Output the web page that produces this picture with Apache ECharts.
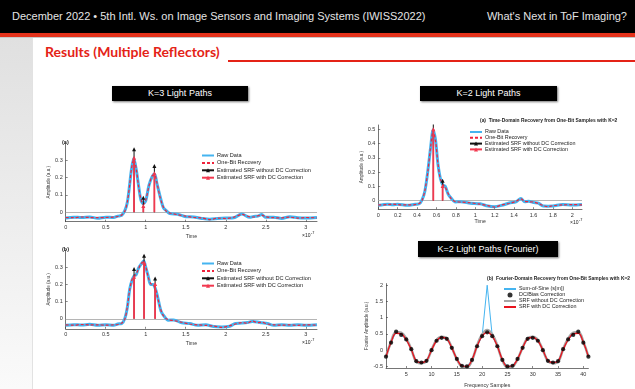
<!DOCTYPE html>
<html>
<head>
<meta charset="utf-8">
<script src="https://cdn.jsdelivr.net/npm/echarts@6/dist/echarts.min.js"></script>
<style>
  html,body{margin:0;padding:0;}
  body{width:635px;height:389px;position:relative;overflow:hidden;background:#fff;font-family:'Liberation Sans',Arial,sans-serif;}
  .abs{position:absolute;}
  #topbar{left:0;top:0;width:635px;height:33px;background:#000;}
  #hl{left:12px;top:10px;font-size:11px;color:#e4e4e4;white-space:nowrap;}
  #hr{right:8px;top:10px;font-size:11px;color:#e4e4e4;white-space:nowrap;}
  #redband{left:0;top:33px;width:635px;height:4px;background:#e4321b;}
  #shadow{left:0;top:37px;width:635px;height:1px;background:#c8c8c8;}
  #strip{left:0;top:38px;width:32px;height:351px;background:linear-gradient(#e0e0e0,#fafafa);border-right:1px solid #e2e2e2;}
  #title{left:45px;top:43px;font-family:Lato,'Open Sans',sans-serif;font-weight:bold;font-size:14px;color:#e42317;white-space:nowrap;}
  #uline{left:228px;top:60px;width:407px;height:2px;background:#e42317;}
  .box{background:#000;color:#fff;font-size:9px;text-align:center;box-shadow:1px 1px 2px #777;white-space:nowrap;}
  #chart{left:0;top:0;width:635px;height:389px;}
</style>
</head>
<body>
<div id="topbar" class="abs"></div>
<div id="hl" class="abs">December 2022 • 5th Intl. Ws. on Image Sensors and Imaging Systems (IWISS2022)</div>
<div id="hr" class="abs">What's Next in ToF Imaging?</div>
<div id="redband" class="abs"></div>
<div id="shadow" class="abs"></div>
<div id="strip" class="abs"></div>
<div id="title" class="abs">Results (Multiple Reflectors)</div>
<div id="uline" class="abs"></div>
<div class="abs box" style="left:112px;top:86px;width:136px;height:15px;line-height:15px;">K=3 Light Paths</div>
<div class="abs box" style="left:420px;top:86px;width:137px;height:15px;line-height:15px;">K=2 Light Paths</div>
<div class="abs box" style="left:418px;top:241px;width:140px;height:16px;line-height:16px;">K=2 Light Paths (Fourier)</div>
<div id="chart" class="abs"></div>
<script>
// ---------------- DATA ----------------
// Chart (a) K=3, time in units of 1e-7 s
const timesA = [0,0.1,0.2,0.3,0.4,0.5,0.6,0.65,0.7,0.74,0.77,0.8,0.82,0.85,0.88,0.91,0.94,0.97,1.0,1.04,1.08,1.11,1.14,1.18,1.22,1.26,1.3,1.4,1.5,1.6,1.7,1.8,1.9,2.0,2.1,2.2,2.3,2.35,2.4,2.45,2.5,2.6,2.7,2.8,2.9,3.0,3.14];
const rawA = [-0.033,-0.028,-0.030,-0.027,-0.034,-0.028,-0.030,-0.022,-0.017,0.011,0.057,0.163,0.24,0.31,0.25,0.155,0.07,0.05,0.066,0.155,0.205,0.22,0.165,0.09,0.027,0.008,-0.007,-0.011,-0.025,-0.027,-0.035,-0.040,-0.036,-0.033,-0.031,-0.010,-0.029,-0.024,-0.022,-0.013,-0.029,-0.028,-0.035,-0.025,-0.031,-0.033,-0.030];
const recA = [-0.030,-0.031,-0.027,-0.030,-0.031,-0.030,-0.028,-0.024,-0.015,0.008,0.06,0.16,0.245,0.305,0.255,0.15,0.075,0.045,0.07,0.15,0.21,0.215,0.17,0.085,0.03,0.005,-0.004,-0.014,-0.022,-0.030,-0.032,-0.042,-0.033,-0.036,-0.028,-0.012,-0.026,-0.027,-0.020,-0.016,-0.026,-0.031,-0.032,-0.028,-0.033,-0.030,-0.032];
const stemTimesA = [0.854,0.97,1.108];
const stemNoDcA = [0.363,0.084,0.266];
const stemDcA = [0.314,0.036,0.224];

// Chart (b) K=3
const timesB = [0,0.1,0.2,0.3,0.4,0.5,0.6,0.65,0.7,0.74,0.77,0.8,0.83,0.855,0.88,0.91,0.94,0.975,1.0,1.03,1.06,1.09,1.12,1.15,1.19,1.23,1.28,1.35,1.45,1.55,1.65,1.75,1.85,1.95,2.05,2.12,2.2,2.27,2.33,2.4,2.45,2.52,2.6,2.7,2.8,2.9,3.0,3.14];
const rawB = [-0.038,-0.034,-0.036,-0.032,-0.038,-0.034,-0.037,-0.030,-0.027,0.004,0.066,0.174,0.226,0.25,0.256,0.294,0.316,0.336,0.30,0.25,0.2,0.2,0.176,0.125,0.046,0.015,-0.008,-0.007,-0.023,-0.027,-0.038,-0.035,-0.045,-0.047,-0.043,-0.027,-0.025,-0.022,-0.016,-0.019,-0.023,-0.027,-0.038,-0.034,-0.038,-0.035,-0.038,-0.034];
const recB = [-0.035,-0.037,-0.033,-0.035,-0.035,-0.037,-0.035,-0.033,-0.025,0.0,0.07,0.17,0.23,0.245,0.26,0.29,0.32,0.332,0.305,0.245,0.205,0.197,0.18,0.12,0.05,0.012,-0.005,-0.01,-0.02,-0.03,-0.035,-0.038,-0.042,-0.05,-0.04,-0.03,-0.022,-0.025,-0.013,-0.022,-0.02,-0.03,-0.035,-0.037,-0.035,-0.038,-0.035,-0.037];
const stemTimesB = [0.854,0.979,1.117];
const stemNoDcB = [0.29,0.367,0.235];
const stemDcB = [0.245,0.327,0.202];

// Chart (c) K=2
const timesC = [0,0.1,0.15,0.2,0.3,0.38,0.42,0.45,0.48,0.51,0.54,0.565,0.59,0.615,0.64,0.665,0.69,0.72,0.75,0.79,0.85,0.95,1.05,1.13,1.2,1.27,1.35,1.42,1.47,1.51,1.55,1.6,1.65,1.7,1.75,1.8,1.9,2.0,2.1];
const rawC = [-0.033,-0.025,-0.028,-0.025,-0.033,-0.025,-0.023,0.003,0.066,0.205,0.376,0.495,0.425,0.255,0.155,0.11,0.1,0.046,0.018,-0.009,-0.007,-0.018,-0.022,-0.038,-0.042,-0.033,-0.017,-0.008,0.015,-0.008,-0.004,-0.013,-0.017,-0.038,-0.039,-0.038,-0.027,-0.031,-0.027];
const recC = [-0.03,-0.028,-0.025,-0.028,-0.03,-0.028,-0.02,0.0,0.07,0.2,0.38,0.49,0.42,0.26,0.15,0.115,0.095,0.05,0.015,-0.006,-0.01,-0.015,-0.025,-0.035,-0.045,-0.03,-0.02,-0.005,0.012,-0.005,-0.008,-0.01,-0.02,-0.035,-0.042,-0.035,-0.03,-0.028,-0.03];
const stemTimesC = [0.567,0.663];
const stemNoDcC = [0.542,0.14];
const stemDcC = [0.5,0.103];

// Chart (d) Fourier samples 1..41
const freqSamples = [1,2,3,4,5,6,7,8,9,10,11,12,13,14,15,16,17,18,19,20,21,22,23,24,25,26,27,28,29,30,31,32,33,34,35,36,37,38,39,40,41];
const sumOfSine = [-0.20,0.23,0.57,0.47,0.33,0.03,-0.34,-0.38,-0.33,0.00,0.29,0.38,0.35,0.07,-0.27,-0.48,-0.50,-0.30,0.12,0.43,2.00,0.43,0.12,-0.30,-0.50,-0.48,-0.27,0.07,0.35,0.38,0.29,0.00,-0.33,-0.38,-0.34,0.03,0.33,0.47,0.57,0.23,-0.20];
const dcBias = [-0.20,0.23,0.57,0.47,0.33,0.03,-0.34,-0.38,-0.33,0.00,0.29,0.38,0.35,0.07,-0.27,-0.48,-0.50,-0.30,0.12,0.43,0.55,0.43,0.12,-0.30,-0.50,-0.48,-0.27,0.07,0.35,0.38,0.29,0.00,-0.33,-0.38,-0.34,0.03,0.33,0.47,0.57,0.23,-0.20];
const srfNoDc = [-0.20,0.26,0.56,0.54,0.35,0.03,-0.36,-0.40,-0.34,0.01,0.31,0.41,0.37,0.08,-0.28,-0.50,-0.52,-0.31,0.14,0.48,0.62,0.48,0.14,-0.31,-0.52,-0.50,-0.28,0.08,0.37,0.41,0.31,0.01,-0.34,-0.40,-0.36,0.03,0.35,0.54,0.56,0.26,-0.20];
const srfDc = [-0.20,0.24,0.52,0.50,0.32,0.02,-0.34,-0.38,-0.32,0.00,0.29,0.39,0.35,0.07,-0.27,-0.48,-0.50,-0.29,0.12,0.43,0.55,0.43,0.12,-0.29,-0.50,-0.48,-0.27,0.07,0.35,0.39,0.29,0.00,-0.32,-0.38,-0.34,0.02,0.32,0.50,0.52,0.24,-0.20];

// Tick labels
const ticksTimeK3 = [0,0.5,1,1.5,2,2.5,3];
const ticksAmpK3 = [0,0.1,0.2,0.3];
const ticksTimeK2 = [0,0.2,0.4,0.6,0.8,1,1.2,1.4,1.6,1.8,2];
const ticksAmpK2 = [0,0.1,0.2,0.3,0.4,0.5];
const ticksFreq = [5,10,15,20,25,30,35,40];
const ticksFourier = [-0.5,0,0.5,1,1.5,2];

const legendTime = ['Raw Data','One-Bit Recovery','Estimated SRF without DC Correction','Estimated SRF with DC Correction'];
const legendFourier = ['Sum-of-Sine (s[m])','DC/Bias Correction','SRF without DC Correction','SRF with DC Correction'];

// ---------------- STYLE ----------------
const FONT = "'Liberation Sans', Arial, sans-serif";
const BLUE = '#45b4f0';
const RED = '#f0233c';
const STEMRED = '#f2384f';
const AXC = '#3a3a3a';
const TXT = '#333';

const pair = (xs, ys) => xs.map((x, i) => [x, ys[i]]);

function xAxisDef(grid, min, max, ticks, name, gap) {
  return {
    type: 'value', gridIndex: grid, min, max,
    axisLine: {onZero: false, lineStyle: {color: AXC, width: 0.7}},
    axisTick: {inside: true, length: 2, customValues: ticks, lineStyle: {color: AXC, width: 0.6}},
    axisLabel: {customValues: ticks, fontSize: 5.5, color: TXT, margin: 3, fontFamily: FONT},
    splitLine: {show: false},
    name, nameLocation: 'middle', nameGap: gap,
    nameTextStyle: {fontSize: 5.2, color: TXT, fontFamily: FONT}
  };
}
function yAxisDef(grid, min, max, ticks, name, gap) {
  return {
    type: 'value', gridIndex: grid, min, max,
    axisLine: {show: true, onZero: false, lineStyle: {color: AXC, width: 0.7}},
    axisTick: {show: true, inside: true, length: 2, customValues: ticks, lineStyle: {color: AXC, width: 0.6}},
    axisLabel: {customValues: ticks, fontSize: 5.5, color: TXT, margin: 3, fontFamily: FONT},
    splitLine: {show: false},
    name, nameLocation: 'middle', nameGap: gap, nameRotate: 90,
    nameTextStyle: {fontSize: 4.6, color: TXT, fontFamily: FONT}
  };
}

const series = [];
function timeSeries(idx, times, raw, rec, stT, stNo, stDc) {
  series.push({
    name: 'Raw Data', type: 'line', xAxisIndex: idx, yAxisIndex: idx,
    data: pair(times, raw), symbol: 'none', smooth: 0.3,
    lineStyle: {color: BLUE, width: 3}, itemStyle: {color: BLUE},
    markLine: {silent: true, symbol: 'none', label: {show: false},
      lineStyle: {color: '#b5b5b5', width: 1, type: 'solid'}, data: [{yAxis: 0}], z: 1},
    z: 2
  });
  series.push({
    name: 'One-Bit Recovery', type: 'line', xAxisIndex: idx, yAxisIndex: idx,
    data: pair(times, rec), symbol: 'none', smooth: 0.3,
    lineStyle: {color: RED, width: 1.2, type: [3, 2]}, itemStyle: {color: RED}, z: 3
  });
  stT.forEach((t, i) => {
    series.push({
      name: 'Estimated SRF without DC Correction', type: 'line', xAxisIndex: idx, yAxisIndex: idx,
      data: [{value: [t, 0], symbol: 'none'}, {value: [t, stNo[i]]}],
      symbol: 'triangle', symbolSize: 4, showSymbol: true,
      lineStyle: {color: '#111', width: 1}, itemStyle: {color: '#111'}, z: 4
    });
  });
  stT.forEach((t, i) => {
    series.push({
      name: 'Estimated SRF with DC Correction', type: 'line', xAxisIndex: idx, yAxisIndex: idx,
      data: [{value: [t, 0], symbol: 'none'}, {value: [t, stDc[i]]}],
      symbol: 'triangle', symbolSize: 4, showSymbol: true,
      lineStyle: {color: STEMRED, width: 1.8}, itemStyle: {color: STEMRED}, z: 5
    });
  });
}
timeSeries(0, timesA, rawA, recA, stemTimesA, stemNoDcA, stemDcA);
timeSeries(1, timesB, rawB, recB, stemTimesB, stemNoDcB, stemDcB);
timeSeries(2, timesC, rawC, recC, stemTimesC, stemNoDcC, stemDcC);

series.push({
  name: 'Sum-of-Sine (s[m])', type: 'line', xAxisIndex: 3, yAxisIndex: 3,
  data: pair(freqSamples, sumOfSine), symbol: 'none',
  lineStyle: {color: BLUE, width: 1}, itemStyle: {color: BLUE}, z: 2
});
series.push({
  name: 'SRF without DC Correction', type: 'line', xAxisIndex: 3, yAxisIndex: 3,
  data: pair(freqSamples, srfNoDc), symbol: 'none', smooth: 0.4,
  lineStyle: {color: '#a6a6a6', width: 2.6}, itemStyle: {color: '#a6a6a6'}, z: 3
});
series.push({
  name: 'SRF with DC Correction', type: 'line', xAxisIndex: 3, yAxisIndex: 3,
  data: pair(freqSamples, srfDc), symbol: 'none', smooth: 0.4,
  lineStyle: {color: '#e8141e', width: 1.3}, itemStyle: {color: '#e8141e'}, z: 4
});
series.push({
  name: 'DC/Bias Correction', type: 'scatter', xAxisIndex: 3, yAxisIndex: 3,
  data: pair(freqSamples, dcBias), symbol: 'circle', symbolSize: 4.2,
  itemStyle: {color: '#000'}, z: 5
});

// plain-line legend entries: hide the default marker, keep the line sample
const plainLine = new Set(['Raw Data','One-Bit Recovery','Sum-of-Sine (s[m])','SRF without DC Correction','SRF with DC Correction']);
function legendDef(names, left, top, gap, size) {
  return {
    data: names.map(n => plainLine.has(n) ? {name: n, itemStyle: {opacity: 0}} : {name: n}),
    orient: 'vertical', left, top, padding: 0,
    itemWidth: 12, itemHeight: 5, itemGap: gap, selectedMode: false,
    textStyle: {fontSize: size, color: '#222', fontFamily: FONT, padding: [0, 0, 0, -2]}
  };
}

function txt(x, y, s, size, bold, align) {
  return {type: 'text', left: x, top: y, silent: true,
    style: {text: s, fontSize: size, fontWeight: bold ? 'bold' : 'normal', fill: '#222', fontFamily: FONT, textAlign: align || 'left'}};
}

const option = {
  animation: false,
  backgroundColor: 'transparent',
  grid: [
    {left: 65.7, top: 142.7, width: 251.3, height: 79},
    {left: 65.7, top: 250, width: 251.3, height: 78.8},
    {left: 378.3, top: 125, width: 203.7, height: 84.2},
    {left: 386, top: 283.6, width: 202.4, height: 87.4}
  ],
  xAxis: [
    xAxisDef(0, 0, 3.14, ticksTimeK3, 'Time', 12),
    xAxisDef(1, 0, 3.14, ticksTimeK3, 'Time', 12),
    xAxisDef(2, 0, 2.1, ticksTimeK2, 'Time', 10),
    xAxisDef(3, 1, 41, ticksFreq, 'Frequency Samples', 15)
  ],
  yAxis: [
    yAxisDef(0, -0.054, 0.4, ticksAmpK3, 'Amplitude (a.u.)', 14),
    yAxisDef(1, -0.058, 0.4, ticksAmpK3, 'Amplitude (a.u.)', 14),
    yAxisDef(2, -0.06, 0.53, ticksAmpK2, 'Amplitude (a.u.)', 12),
    yAxisDef(3, -0.55, 2.05, ticksFourier, 'Fourier Amplitude (a.u.)', 15)
  ],
  legend: [
    legendDef(legendTime, 201, 152.5, 1.4, 5.6),
    legendDef(legendTime, 201, 260.5, 1.4, 5.6),
    legendDef(legendTime, 469, 129.5, 0.8, 5.4),
    legendDef(legendFourier, 503, 286.5, 1.0, 5.4)
  ],
  graphic: [
    txt(62, 139, '(a)', 5.5, true),
    txt(62, 246, '(b)', 5.5, true),
    txt(480, 118.5, '(a)  Time-Domain Recovery from One-Bit Samples with K=2', 4.9, true, 'center'),
    txt(487, 276.5, '(b)  Fourier-Domain Recovery from One-Bit Samples with K=2', 4.9, true, 'center'),
    txt(302, 233, '×10', 5, false), txt(311, 230.5, '-7', 3.8, false),
    txt(302, 340, '×10', 5, false), txt(311, 337.5, '-7', 3.8, false),
    txt(570, 220, '×10', 5, false), txt(579, 217.5, '-7', 3.8, false)
  ],
  series
};
const chart = echarts.init(document.getElementById('chart'), null, {renderer: 'canvas'});
chart.setOption(option);
</script>
</body>
</html>
